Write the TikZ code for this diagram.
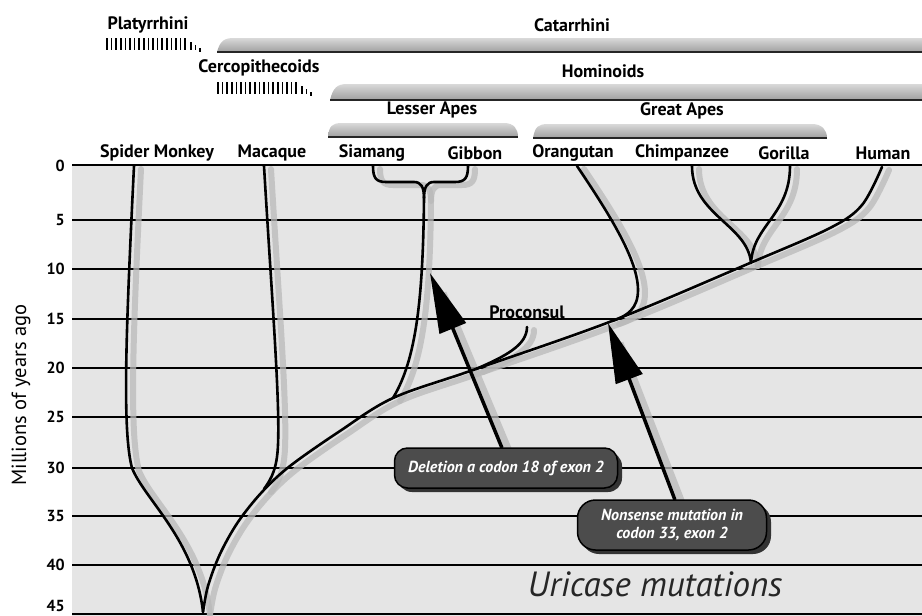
\documentclass[tikz,border=0pt]{standalone}
\usepackage{fontspec}
\setmainfont{PT Sans}
\usetikzlibrary{arrows.meta,calc}
\begin{document}
\begin{tikzpicture}[x=1pt,y=-1pt,
  lbl/.style={font=\bfseries\fontsize{18}{20}\selectfont,inner sep=0pt},
  num/.style={font=\bfseries\fontsize{16}{18}\selectfont,inner sep=0pt,anchor=east},
  gridln/.style={line width=1.6pt,draw=black},
  branch/.style={line width=2.6pt,draw=black,line cap=round,line join=round},
  arrowln/.style={line width=3.5pt,draw=black,-{Triangle[length=60pt,width=28pt]}},
  bar/.style={top color=gray!30,bottom color=gray!75,draw=none},
  barline/.style={line width=2pt,draw=black!85},
  mbox/.style={rounded corners=13pt,fill=black!70,draw=black,line width=1.5pt,
     text=white,font=\bfseries\itshape\fontsize{16}{18}\selectfont,align=center,inner sep=0pt},
  hatch/.style={line width=1.6pt,draw=black}
]
\useasboundingbox (0,0) rectangle (922,616);
% panel
\fill[gray!20] (72,165) rectangle (922,616);
\draw[gridln] (72,165) -- (922,165);
\foreach \yy in {220,269,319,368,417,468,516,565,614}
  \draw[gridln] (72,\yy) -- (922,\yy);
% axis numbers
\foreach \yy/\t in {166/0,220/5,269/10,319/15,368/20,417/25,468/30,516/35,565/40,606/45}
  \node[num] at (65,\yy) {\t};
\node[rotate=90,font=\fontsize{20.5}{22}\selectfont,inner sep=0pt] (ylab) at (21,395) {Millions of years ago};

% tree paths as macro (drawn once as shadow, once in black)
\newcommand\mytreepaths{%
  % main line human -> root
  \draw[branch] plot[smooth,tension=.55] coordinates {(882,167) (862,205) (830,228) (750,263) (612,321) (473,370) (393,398) (340,431) (290,466) (262,492) (238,522) (220,554) (208,586) (203,612)};
  % spider monkey
  \draw[branch] (134,166) .. controls (126,330) and (122,430) .. (132,468) .. controls (145,500) and (195,540) .. (203,612);
  % macaque
  \draw[branch] (264,166) .. controls (272,300) and (280,400) .. (278,445) .. controls (277,468) and (272,478) .. (264,489);
  % siamang / gibbon
  \draw[branch] (373,166) .. controls (373,178) and (376,182) .. (386,182) -- (414,182) .. controls (421,182) and (424,187) .. (424,198)
     .. controls (423,300) and (416,360) .. (393,398);
  \draw[branch] (468,166) .. controls (468,178) and (465,182) .. (455,182) -- (434,182) .. controls (427,182) and (424,187) .. (424,198);
  % proconsul
  \draw[branch] (476,369) .. controls (506,356) and (527,345) .. (527,327);
  % orangutan
  \draw[branch] (577,166) .. controls (610,215) and (638,260) .. (638,290) .. controls (638,308) and (628,316) .. (612,321);
  % chimp, gorilla
  \draw[branch] (692,166) .. controls (692,215) and (748,225) .. (751,263);
  \draw[branch] (790,166) .. controls (790,215) and (753,225) .. (751,263);
}
\begin{scope}[shift={(7,3)},branch/.style={line width=6pt,draw=gray!55,opacity=.75,line cap=round}]
  \mytreepaths
  \draw[line width=7pt,draw=gray!55,opacity=.75] (502,448) -- (436,290);
  \draw[line width=7pt,draw=gray!55,opacity=.75] (675,500) -- (613,340);
\end{scope}
\mytreepaths

\node[font=\bfseries\fontsize{18}{20}\selectfont,inner sep=0pt] (proc) at (527,312) {Proconsul};

% species labels
\node[lbl] (spm) at (157,153) {Spider Monkey};
\node[lbl] (mac) at (272,153) {Macaque};
\node[lbl] (sia) at (372,153) {Siamang};
\node[lbl] (gib) at (475,153) {Gibbon};
\node[lbl] (ora) at (573,153) {Orangutan};
\node[lbl] (chi) at (682,153) {Chimpanzee};
\node[lbl] (gor) at (784,153) {Gorilla};
\node[lbl] (hum) at (883,153) {Human};

% group labels and bars
\node[lbl] (platy) at (148,25) {Platyrrhini};
\node[lbl] (catar) at (572,25) {Catarrhini};
\node[lbl] (cerco) at (259,68) {Cercopithecoids};
\node[lbl] (homin) at (603,71) {Hominoids};
\node[lbl] (lesser) at (432,110) {Lesser Apes};
\node[lbl] (great) at (682,111) {Great Apes};

\foreach \i in {0,...,17} \draw[hatch] (107+\i*4.6,38) -- (107+\i*4.6,50);
\draw[hatch] (191,42) -- (191,50);
\draw[hatch] (195.5,45) -- (195.5,50);
\draw[hatch,line width=1.2pt] (200,48) -- (200,52);
\foreach \i in {0,...,17} \draw[hatch] (218+\i*4.6,82) -- (218+\i*4.6,94);
\draw[hatch] (302,86) -- (302,94);
\draw[hatch] (306.5,89) -- (306.5,94);
\draw[hatch,line width=1.2pt] (311,92) -- (311,96);

\shade[bar] (217,52) .. controls (220,41) and (224,38) .. (234,38) -- (922,38) -- (922,52) -- cycle;
\draw[barline] (217,52) -- (922,52);
\shade[bar] (330,100) .. controls (333,88) and (337,84) .. (347,84) -- (922,84) -- (922,100) -- cycle;
\draw[barline] (330,100) -- (922,100);
\shade[bar] (328,137) .. controls (329,126) and (332,123) .. (342,123) -- (504,123) .. controls (514,123) and (518,129) .. (518,137) -- cycle;
\draw[barline] (328,137) -- (518,137);
\shade[bar] (533,138) .. controls (535,127) and (538,124) .. (548,124) -- (812,124) .. controls (822,124) and (827,130) .. (827,138) -- cycle;
\draw[barline] (533,138) -- (827,138);

% mutation boxes and arrows
\fill[black!80,rounded corners=14pt] (398,452) rectangle (622,492);
\node[mbox,minimum width=223pt,minimum height=40pt] (box1) at (506,468) {Deletion a codon 18 of exon 2};
\fill[black!80,rounded corners=18pt] (581,504) rectangle (771,554);
\node[mbox,rounded corners=18pt,minimum width=189pt,minimum height=50pt] (box2) at (672,525) {Nonsense mutation in\\codon 33, exon 2};
\coordinate (a1s) at (502,448);
\coordinate (a1t) at (430,273);
\coordinate (a2s) at (675,500);
\coordinate (a2t) at (608,323);
\draw[arrowln] (a1s) -- (a1t);
\draw[arrowln] (a2s) -- (a2t);

\node[font=\itshape\fontsize{35}{38}\selectfont,text=black!85,inner sep=0pt] (title) at (655,584) {Uricase mutations};
\end{tikzpicture}
\end{document}
